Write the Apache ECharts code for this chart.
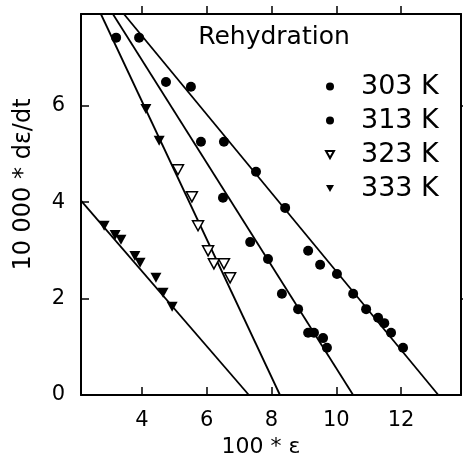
<!DOCTYPE html>
<html>
<head>
<meta charset="utf-8">
<script src="https://cdn.jsdelivr.net/npm/echarts@6/dist/echarts.min.js"></script>
<style>
  html, body { margin: 0; padding: 0; background: #fff; }
  #chart { width: 463px; height: 464px; }
</style>
</head>
<body>
<div id="chart"></div>
<script>
// axis ticks
const xTicks = [4, 6, 8, 10, 12];
const yTicks = [0, 2, 4, 6];
const yTicksRight = [2, 6];

// 303 K
const x303 = [3.91, 5.51, 6.53, 7.52, 8.42, 9.13, 9.50, 10.02, 10.52, 10.92, 11.29, 11.48, 11.69, 12.06];
const y303 = [7.41, 6.39, 5.25, 4.63, 3.88, 2.99, 2.70, 2.51, 2.10, 1.78, 1.60, 1.49, 1.29, 0.98];
// 313 K
const x313 = [3.20, 4.74, 5.82, 6.50, 7.34, 7.89, 8.32, 8.82, 9.13, 9.31, 9.59, 9.71];
const y313 = [7.41, 6.49, 5.25, 4.09, 3.17, 2.82, 2.10, 1.78, 1.29, 1.29, 1.18, 0.98];
// 323 K (open triangles)
const x323 = [5.11, 5.54, 5.73, 6.04, 6.22, 6.53, 6.72];
const y323 = [4.67, 4.11, 3.51, 2.99, 2.72, 2.72, 2.43];
// 333 K (filled triangles) - the two top ones sit on the 323 K line
const x333 = [4.12, 4.53, 2.83, 3.17, 3.35, 3.78, 3.94, 4.43, 4.65, 4.93];
const y333 = [5.93, 5.27, 3.51, 3.32, 3.22, 2.88, 2.74, 2.43, 2.12, 1.83];

// fitted lines, end points
const fit303 = [[3.44, 7.9], [13.15, 0]];
const fit313 = [[3.10, 7.9], [10.52, 0]];
const fit323 = [[2.73, 7.9], [8.26, 0]];
const fit333 = [[2.116, 4.03], [7.30, 0]];

const X_MIN = 2.116, X_MAX = 13.85, Y_MIN = 0, Y_MAX = 7.9;
const FONT = 'DejaVu Sans';
const downTri = 'path://M0,0L10,0L5,9Z';

const zip = (xs, ys) => xs.map((x, i) => [x, ys[i]]);

const chart = echarts.init(document.getElementById('chart'));

const scatter = (name, xs, ys, symbol, size, itemStyle) => ({
  name: name,
  type: 'scatter',
  symbol: symbol,
  symbolSize: size,
  itemStyle: { opacity: 1, ...itemStyle },
  data: zip(xs, ys),
  z: 3
});

const fitLine = (data) => ({
  type: 'line',
  data: data,
  symbol: 'none',
  silent: true,
  lineStyle: { color: '#000', width: 1.8 },
  z: 2
});

const axisBase = {
  type: 'value',
  splitLine: { show: false },
  axisLine: { show: true, onZero: false, lineStyle: { color: '#000', width: 2 } }
};

chart.setOption({
  animation: false,
  backgroundColor: '#fff',
  grid: { left: 81, right: 2, top: 14, bottom: 69 },
  title: {
    text: 'Rehydration',
    left: 269,
    top: 20,
    textAlign: 'center',
    textStyle: { fontFamily: FONT, fontSize: 25, fontWeight: 'normal', color: '#000' }
  },
  legend: {
    orient: 'vertical',
    left: 320,
    top: 67,
    itemWidth: 8,
    itemHeight: 8,
    itemGap: 5,
    data: ['303 K', '313 K', '323 K', '333 K'],
    textStyle: { fontFamily: FONT, fontSize: 27, color: '#000', padding: [0, 0, 0, 22], lineHeight: 29 }
  },
  xAxis: [{
    ...axisBase,
    min: X_MIN, max: X_MAX,
    position: 'bottom',
    name: '100 * ε',
    nameLocation: 'middle',
    nameGap: 38,
    nameTextStyle: { fontFamily: FONT, fontSize: 22, color: '#000', padding: [0, 20, 0, 0] },
    axisTick: { show: true, inside: true, length: 8, customValues: xTicks, lineStyle: { color: '#000', width: 1.5 } },
    axisLabel: { show: true, customValues: xTicks, fontFamily: FONT, fontSize: 21, color: '#000', margin: 15 }
  }, {
    ...axisBase,
    min: X_MIN, max: X_MAX,
    position: 'top',
    axisTick: { show: true, inside: false, length: 8, customValues: xTicks, lineStyle: { color: '#000', width: 1.5 } },
    axisLabel: { show: false }
  }],
  yAxis: [{
    ...axisBase,
    min: Y_MIN, max: Y_MAX,
    position: 'left',
    name: '10 000 * dε/dt',
    nameLocation: 'middle',
    nameGap: 45,
    nameTextStyle: { fontFamily: FONT, fontSize: 24, color: '#000', padding: [0, 0, 0, 40] },
    axisTick: { show: true, inside: true, length: 8, customValues: yTicks, lineStyle: { color: '#000', width: 1.5 } },
    axisLabel: { show: true, customValues: yTicks, fontFamily: FONT, fontSize: 21, color: '#000', margin: 16 }
  }, {
    ...axisBase,
    min: Y_MIN, max: Y_MAX,
    position: 'right',
    axisTick: { show: true, inside: false, length: 8, customValues: yTicksRight, lineStyle: { color: '#000', width: 1.5 } },
    axisLabel: { show: false }
  }],
  series: [
    fitLine(fit303),
    fitLine(fit313),
    fitLine(fit323),
    fitLine(fit333),
    scatter('303 K', x303, y303, 'circle', 10, { color: '#000' }),
    scatter('313 K', x313, y313, 'circle', 10, { color: '#000' }),
    scatter('323 K', x323, y323, downTri, [11, 10], { color: '#fff', borderColor: '#000', borderWidth: 1.5 }),
    scatter('333 K', x333, y333, downTri, [11, 10], { color: '#000' })
  ]
});
</script>
</body>
</html>
